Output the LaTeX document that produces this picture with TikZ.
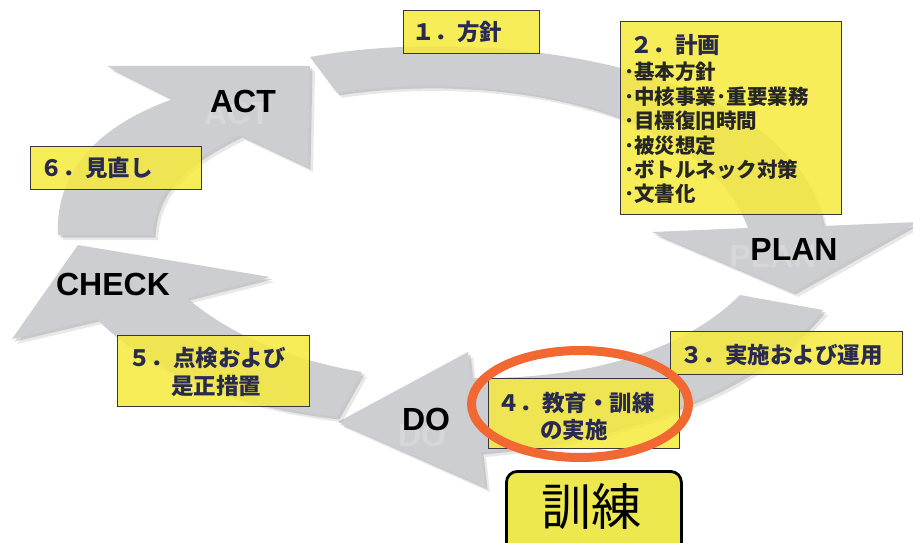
\documentclass[tikz,border=0pt]{standalone}
\usepackage{fontspec}
\setmainfont{Liberation Sans}
\newfontfamily\jp{Noto Sans CJK JP}
\usetikzlibrary{shadows,shapes.geometric}
\definecolor{arrowgray}{RGB}{205,206,209}
\definecolor{ghostgray}{RGB}{215,215,217}
\definecolor{boxyellow}{RGB}{245,234,61}
\definecolor{boxtext}{RGB}{40,42,80}
\definecolor{boxedge}{RGB}{55,55,60}
\definecolor{ringcol}{RGB}{242,104,50}
\definecolor{kunrenfill}{RGB}{237,232,78}
\tikzset{
  arrowshape/.style={fill=arrowgray,
    drop shadow={shadow xshift=5pt,shadow yshift=-5pt,opacity=0.18},
    drop shadow={shadow xshift=2.5pt,shadow yshift=-2.5pt,opacity=0.3}},
  stepbox/.style={draw=boxedge,line width=1.1pt,fill=boxyellow,fill opacity=0.85,
    inner sep=0pt,anchor=north west},
  steptext/.style={font=\jp\bfseries\fontsize{22.5}{27}\selectfont,text=boxtext,
    inner sep=0pt,anchor=base west},
  listtext/.style={font=\jp\bfseries\fontsize{20.5}{24}\selectfont,text=black!85,
    inner sep=0pt,anchor=base west},
  pdca/.style={font=\bfseries\fontsize{32}{32}\selectfont,text=black,inner sep=0pt},
  ghost/.style={font=\bfseries\fontsize{32}{32}\selectfont,text=ghostgray,inner sep=0pt},
}
\begin{document}
\begin{tikzpicture}[x=1pt,y=-1pt]
\useasboundingbox (0,0) rectangle (913,543);
\fill[white] (0,0) rectangle (913,543);

% ACT arrow
\fill[arrowshape] (58,235) .. controls (55,170) and (100,125) .. (173,99)
  -- (107,66) -- (310,66) -- (308,167) -- (240,135)
  .. controls (190,160) and (155,185) .. (153,235) -- cycle;
% top arc -> PLAN
\fill[arrowshape] (310,57) .. controls (480,25) and (790,60) .. (823,226)
  -- (918,222) -- (793,292) -- (652,232) -- (748,228)
  .. controls (700,100) and (480,70) .. (337,93) -- cycle;
% right arc -> DO
\fill[arrowshape] (740,295) -- (823,310) .. controls (760,390) and (620,440) .. (481,452)
  -- (485,487) -- (338,422) -- (468,352) -- (471,378)
  .. controls (600,380) and (690,345) .. (740,295) -- cycle;
% bottom-left arc -> CHECK
\fill[arrowshape] (362,372) -- (337,417) .. controls (230,405) and (150,370) .. (97,319)
  -- (12,339) -- (78,245) -- (270,277) -- (187,298)
  .. controls (230,335) and (290,360) .. (362,372) -- cycle;

% PDCA labels with faint reflections
\node[ghost] (actg) at (237,113) {ACT};
\node[ghost] (plang) at (773,256) {PLAN};
\node[ghost] (dog) at (422,435) {DO};
\node[pdca] (act) at (243,101) {ACT};
\node[pdca] (plan) at (794,249) {PLAN};
\node[pdca] (do) at (426,419) {DO};
\node[pdca] (check) at (113,284) {CHECK};

% step boxes
\node[stepbox,minimum width=136,minimum height=43] (b1) at (403,10) {};
\node[steptext] (t1) at (412,40.5) {１．方針};

\node[stepbox,minimum width=221,minimum height=193] (b2) at (620,21) {};
\node[steptext] (t2) at (630,53.5) {２．計画};
\node[listtext] (l1) at (624,79.8) {･基本方針};
\node[listtext] (l2) at (624,104.2) {･中核事業･重要業務};
\node[listtext] (l3) at (624,128.6) {･目標復旧時間};
\node[listtext] (l4) at (624,153) {･被災想定};
\node[listtext] (l5) at (624,177.4) {･ボトルネック対策};
\node[listtext] (l6) at (624,201.8) {･文書化};

\node[stepbox,minimum width=232,minimum height=43] (b3) at (670,331) {};
\node[steptext] (t3) at (680,363) {３．実施および運用};

\node[stepbox,minimum width=191,minimum height=70] (b4) at (488,378) {};
\node[steptext] (t4a) at (497,411.5) {４．教育・訓練};
\node[steptext] (t4b) at (540,438.5) {の実施};

\node[stepbox,minimum width=192,minimum height=71] (b5) at (117,335) {};
\node[steptext] (t5a) at (128,366.5) {５．点検および};
\node[steptext] (t5b) at (171,394.5) {是正措置};

\node[stepbox,minimum width=171,minimum height=43] (b6) at (30,146) {};
\node[steptext] (t6) at (40,176.5) {６．見直し};

% highlight ring
\node[ellipse,draw=ringcol,line width=9pt,minimum width=217,minimum height=107,inner sep=0pt] (ring) at (580,404) {};

% training box
\node[draw=black,line width=2.8pt,fill=kunrenfill,rounded corners=11pt,
  minimum width=175,minimum height=100,inner sep=0pt,anchor=north west] (kbox) at (505,470) {};
\node[font=\jp\fontsize{50}{50}\selectfont,inner sep=0pt,anchor=base] (kunren) at (591,525.5) {訓練};
\end{tikzpicture}
\end{document}
